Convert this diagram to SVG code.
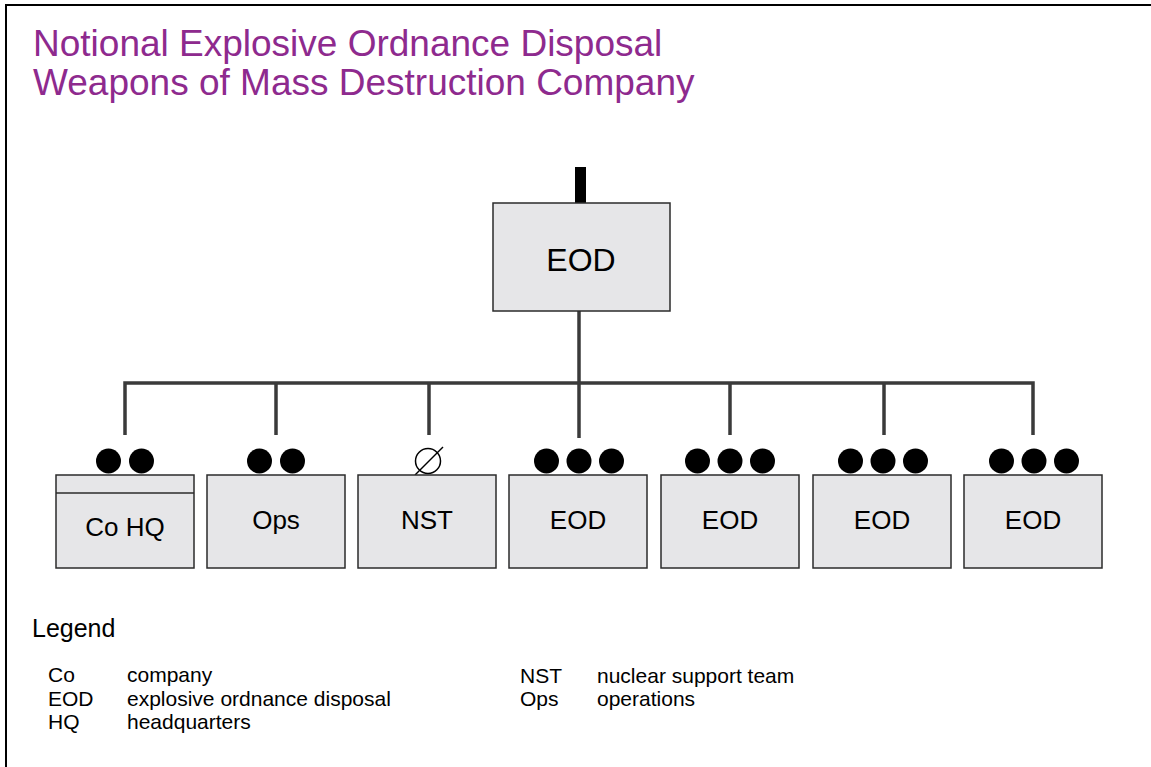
<svg xmlns="http://www.w3.org/2000/svg" width="1151" height="767" viewBox="0 0 1151 767">
  <style>
    text { font-family: "Liberation Sans", Arial, sans-serif; fill: #000; }
    .title { font-size: 37px; fill: #8e2a8e; }
    .unit { fill: #e6e6e8; stroke: #2b2b2b; stroke-width: 1.5; }
    .lbl { font-size: 26px; text-anchor: middle; }
    .lblTop { font-size: 32px; text-anchor: middle; }
    .link { fill: none; stroke: #3a3a3a; stroke-width: 3.5; }
    .dot { fill: #000; }
    .legHead { font-size: 25px; }
    .leg { font-size: 21px; }
  </style>
  <defs>
    <!-- platoon-size echelon marks -->
    <g id="two-dots">
      <circle class="dot" cx="-16.5" cy="0" r="12.5"/>
      <circle class="dot" cx="16.5" cy="0" r="12.5"/>
    </g>
    <g id="three-dots">
      <circle class="dot" cx="-32.5" cy="0" r="12.5"/>
      <circle class="dot" cx="0" cy="0" r="12.5"/>
      <circle class="dot" cx="32.5" cy="0" r="12.5"/>
    </g>
  </defs>

  <rect x="0" y="0" width="1151" height="767" fill="#fff"/>
  <!-- page frame -->
  <path d="M6,767 V5 H1151" fill="none" stroke="#000" stroke-width="2"/>

  <text class="title" x="33" y="56">Notional Explosive Ordnance Disposal</text>
  <text class="title" x="33" y="95">Weapons of Mass Destruction Company</text>

  <g id="connectors">
    <path class="link" d="M579,311 V438"/>
    <path class="link" d="M125,435 V383 H1033 V435"/>
    <path class="link" d="M276,383 V435"/>
    <path class="link" d="M429,383 V435"/>
    <path class="link" d="M730,383 V435"/>
    <path class="link" d="M884,383 V435"/>
  </g>

  <g id="company">
    <rect x="575" y="167" width="11" height="36" fill="#000"/>
    <rect class="unit" x="493" y="203" width="177" height="108"/>
    <text class="lblTop" x="581" y="271">EOD</text>
  </g>

  <g id="co-hq">
    <use href="#two-dots" x="125" y="461"/>
    <rect class="unit" x="56" y="475" width="138" height="93"/>
    <line x1="56" y1="493" x2="194" y2="493" stroke="#2b2b2b" stroke-width="1.5"/>
    <text class="lbl" x="125" y="536">Co HQ</text>
  </g>

  <g id="ops">
    <use href="#two-dots" x="276" y="461"/>
    <rect class="unit" x="207" y="475" width="138" height="93"/>
    <text class="lbl" x="276" y="529">Ops</text>
  </g>

  <g id="nst">
    <circle cx="428" cy="461" r="12.5" fill="none" stroke="#000" stroke-width="1.5"/>
    <line x1="415" y1="475" x2="443" y2="447" stroke="#000" stroke-width="1.5"/>
    <rect class="unit" x="358" y="475" width="138" height="93"/>
    <text class="lbl" x="427" y="529">NST</text>
  </g>

  <g id="eod-1">
    <use href="#three-dots" x="579" y="461"/>
    <rect class="unit" x="509" y="475" width="138" height="93"/>
    <text class="lbl" x="578" y="529">EOD</text>
  </g>

  <g id="eod-2">
    <use href="#three-dots" x="730" y="461"/>
    <rect class="unit" x="661" y="475" width="138" height="93"/>
    <text class="lbl" x="730" y="529">EOD</text>
  </g>

  <g id="eod-3">
    <use href="#three-dots" x="883" y="461"/>
    <rect class="unit" x="813" y="475" width="138" height="93"/>
    <text class="lbl" x="882" y="529">EOD</text>
  </g>

  <g id="eod-4">
    <use href="#three-dots" x="1034" y="461"/>
    <rect class="unit" x="964" y="475" width="138" height="93"/>
    <text class="lbl" x="1033" y="529">EOD</text>
  </g>

  <g id="legend">
    <text class="legHead" x="32" y="637">Legend</text>
    <text class="leg" x="48" y="682">Co</text>
    <text class="leg" x="127" y="682">company</text>
    <text class="leg" x="48" y="706">EOD</text>
    <text class="leg" x="127" y="706">explosive ordnance disposal</text>
    <text class="leg" x="48" y="729">HQ</text>
    <text class="leg" x="127" y="729">headquarters</text>
    <text class="leg" x="520" y="683">NST</text>
    <text class="leg" x="597" y="683">nuclear support team</text>
    <text class="leg" x="520" y="706">Ops</text>
    <text class="leg" x="597" y="706">operations</text>
  </g>
</svg>
